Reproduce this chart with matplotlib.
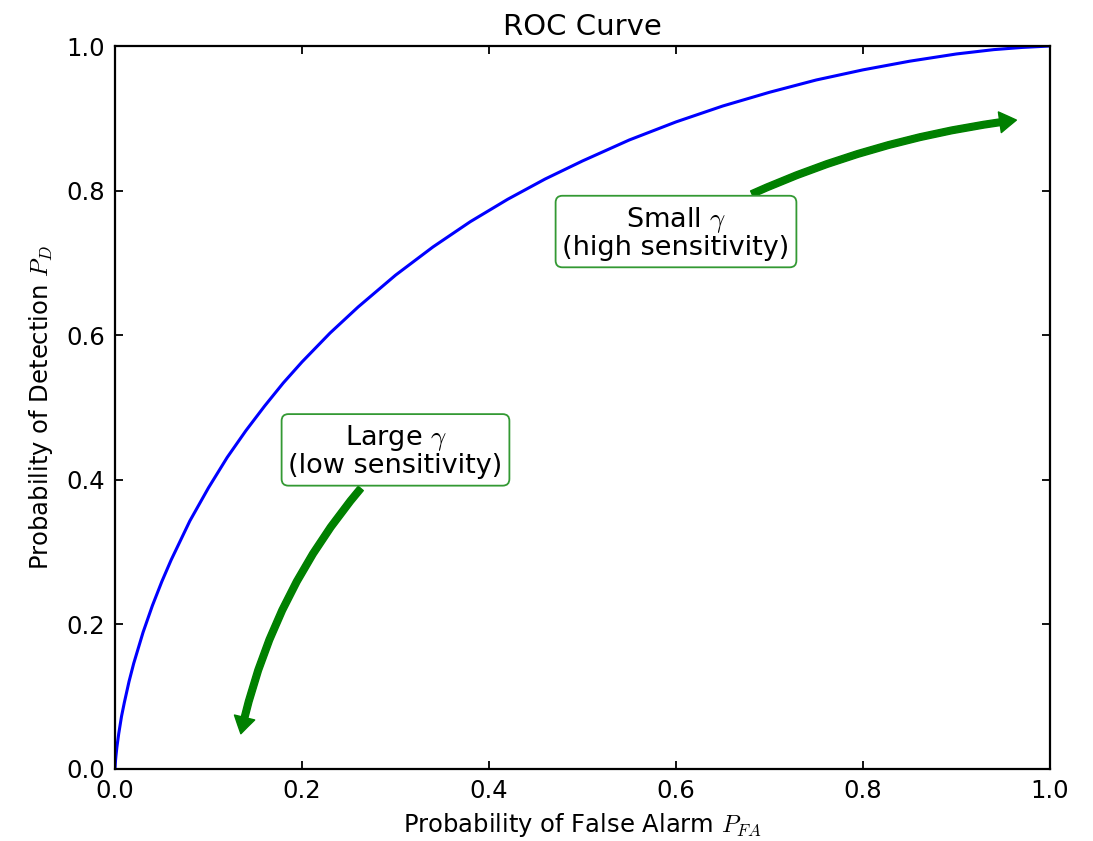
import matplotlib
matplotlib.use('Agg')
import matplotlib.pyplot as plt

plt.rcParams['mathtext.fontset'] = 'cm'
plt.rcParams['font.family'] = 'DejaVu Sans'

#%% ROC points (false alarm rate vs detection rate)
p_fa = [0.0, 0.0005, 0.001, 0.002, 0.004, 0.007, 0.01, 0.015, 0.02, 0.03,
        0.04, 0.05, 0.06, 0.08, 0.10, 0.12, 0.14, 0.16, 0.18, 0.20, 0.23,
        0.26, 0.30, 0.34, 0.38, 0.42, 0.46, 0.50, 0.55, 0.60, 0.65, 0.70,
        0.75, 0.80, 0.85, 0.90, 0.94, 0.97, 1.0]
p_d = [0.0, 0.011, 0.018, 0.030, 0.049, 0.073, 0.092, 0.121, 0.146, 0.189,
       0.226, 0.259, 0.289, 0.343, 0.389, 0.431, 0.468, 0.502, 0.534, 0.563, 0.603,
       0.639, 0.683, 0.722, 0.757, 0.788, 0.816, 0.841, 0.870, 0.895, 0.917, 0.936,
       0.953, 0.967, 0.979, 0.989, 0.995, 0.998, 1.0]

ticks = [0.0, 0.2, 0.4, 0.6, 0.8, 1.0]
tick_labels = ['0.0', '0.2', '0.4', '0.6', '0.8', '1.0']

#%% figure
fig = plt.figure(figsize=(10.93, 8.41), dpi=100)
ax = fig.add_axes([115/1093, 72/841, 935/1093, 723/841])

ax.plot(p_fa, p_d, color='b', lw=2.2)

ax.set_xlim(0, 1)
ax.set_ylim(0, 1)
ax.set_xticks(ticks)
ax.set_yticks(ticks)
ax.set_xticklabels(tick_labels)
ax.set_yticklabels(tick_labels)
ax.tick_params(direction='in', top=True, right=True, length=6, width=1.3,
               pad=7, labelsize=17.5)
for s in ax.spines.values():
    s.set_linewidth(1.6)

ax.set_title('ROC Curve', fontsize=21, pad=8)
ax.set_xlabel('Probability of False Alarm $P_{FA}$', fontsize=17.5, labelpad=6)
ax.set_ylabel('Probability of Detection $P_D$', fontsize=17.5, labelpad=8)

# arrows showing which way the threshold moves along the curve
box = dict(boxstyle='round,pad=0.25', fc='w', ec=(0.2, 0.6, 0.2), lw=1.3)
arrow = 'simple,head_length=0.6,head_width=0.75,tail_width=0.24'

ax.annotate('Large $\\gamma$\n(low sensitivity)', xy=(0.134, 0.045),
            xytext=(0.30, 0.44), ha='center', va='center', fontsize=19.5,
            linespacing=1.0, bbox=box,
            arrowprops=dict(arrowstyle=arrow, color='g', mutation_scale=20,
                            connectionstyle='arc3,rad=0.15'))

ax.annotate('Small $\\gamma$\n(high sensitivity)', xy=(0.967, 0.898),
            xytext=(0.60, 0.742), ha='center', va='center', fontsize=19.5,
            linespacing=1.0, bbox=box,
            arrowprops=dict(arrowstyle=arrow, color='g', mutation_scale=20,
                            connectionstyle='arc3,rad=-0.1'))

fig.savefig('out.png', dpi=100)
